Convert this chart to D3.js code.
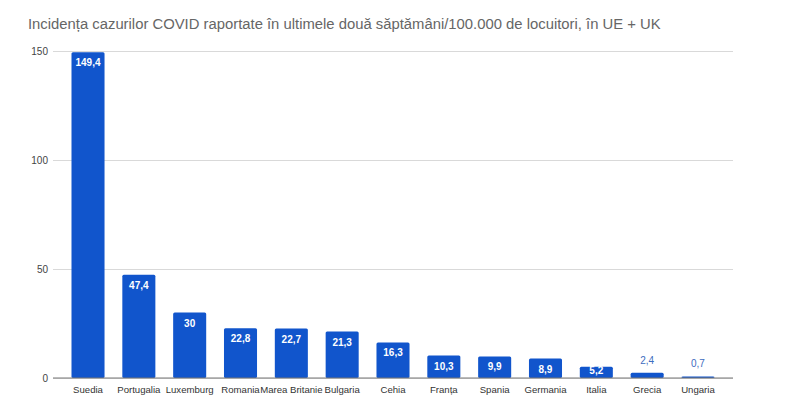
<!DOCTYPE html>
<html>
<head>
<meta charset="utf-8">
<script src="https://cdn.jsdelivr.net/npm/d3@7"></script>
<style>
    body { margin: 0; background: #fff; }
    text { font-family: "Liberation Sans", Arial, sans-serif; }
</style>
</head>
<body>
<div id="chart"></div>
<script>
(function() {

    // data
    var countries = ["Suedia", "Portugalia", "Luxemburg", "Romania", "Marea Britanie", "Bulgaria",
        "Cehia", "Franța", "Spania", "Germania", "Italia", "Grecia", "Ungaria"];
    var incidence = [149.4, 47.4, 30, 22.8, 22.7, 21.3, 16.3, 10.3, 9.9, 8.9, 5.2, 2.4, 0.7];
    var yTicks = [0, 50, 100, 150];

    var width = 800,
        height = 410

    var svg = d3.select("#chart")
        .append("svg")
        .attr("width", width)
        .attr("height", height)

    var title = svg.append("text")
        .attr("x", 28)
        .attr("y", 29)
        .attr("font-size", 16)
        .attr("fill", "#666")
        .text("Incidența cazurilor COVID raportate în ultimele două săptămâni/100.000 de locuitori, în UE + UK")
    // fit the title to the width seen in the reference
    var tw = title.node().getComputedTextLength();
    title.attr("font-size", 16 * 633 / tw)

    var x = d3.scaleBand()
        .domain(countries)
        .range([62.6, 723.4])
        .paddingInner(0.35)
        .paddingOuter(0.175)

    var y = d3.scaleLinear()
        .domain([0, 150])
        .range([378, 51])

    // gridlines + y labels
    var yAxis = svg.append("g")
        .attr("transform", "translate(53,0)")
        .call(d3.axisLeft(y).tickValues(yTicks).tickSize(-680).tickFormat(d3.format("d")))
    yAxis.select(".domain").remove()
    yAxis.selectAll(".tick line").attr("stroke", "#d9d9d9")
    yAxis.selectAll(".tick text")
        .attr("x", -5)
        .attr("fill", "#444")
        .attr("font-size", 10)
        .style("font-family", "'Liberation Sans', Arial, sans-serif")

    // bars
    svg.append("g")
        .selectAll("rect")
        .data(incidence)
        .enter()
        .append("rect")
        .attr("x", function(d, i) { return x(countries[i]); })
        .attr("y", function(d) { return y(d); })
        .attr("width", x.bandwidth())
        .attr("height", function(d) { return y(0) - y(d); })
        .attr("rx", 1.5)
        .attr("fill", "#1155cc")

    // baseline
    svg.append("line")
        .attr("x1", 53).attr("x2", 733)
        .attr("y1", y(0)).attr("y2", y(0))
        .attr("stroke", "#777")
        .attr("stroke-width", 1)

    var fmt = function(d) { return String(d).replace(".", ","); }

    // value labels: inside the bar when it fits, above it otherwise
    svg.append("g")
        .selectAll("text")
        .data(incidence)
        .enter()
        .append("text")
        .attr("x", function(d, i) { return x(countries[i]) + x.bandwidth() / 2; })
        .attr("y", function(d) {
            if (d < 4) return y(d) - 9;
            return Math.min(y(d) + 14, y(0) - 4);
        })
        .attr("text-anchor", "middle")
        .attr("font-size", 10)
        .attr("font-weight", function(d) { return d < 4 ? "normal" : "bold"; })
        .attr("fill", function(d) { return d < 4 ? "#3d6cc0" : "#fff"; })
        .text(fmt)

    // category labels
    var xAxis = svg.append("g")
        .attr("transform", "translate(0," + y(0) + ")")
        .call(d3.axisBottom(x).tickSize(0).tickPadding(8))
    xAxis.select(".domain").remove()
    xAxis.selectAll(".tick text")
        .attr("fill", "#333")
        .attr("font-size", 9.6)
        .style("font-family", "'Liberation Sans', Arial, sans-serif")

})();
</script>
</body>
</html>
